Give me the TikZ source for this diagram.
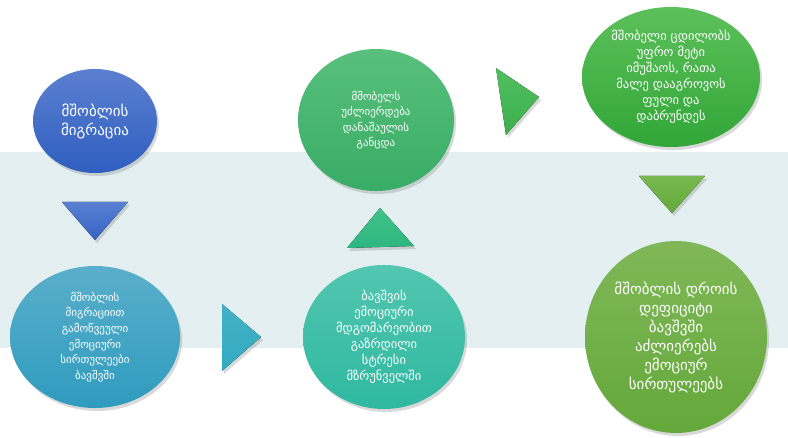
\documentclass[tikz,border=0pt]{standalone}
\usepackage{fontspec}
\newfontfamily\geo[Script=Georgian]{DejaVu Sans}
\usetikzlibrary{shapes.geometric,shadows}
\definecolor{bandbg}{HTML}{E3EFF0}
\tikzset{
  shd/.style={drop shadow={opacity=.3,shadow xshift=2pt,shadow yshift=-3pt}},
  bubble/.style={ellipse, inner sep=0pt, text=white, align=center, shd},
  txt/.style 2 args={font=\geo\fontsize{#1}{#2}\selectfont},
  tri/.style={shd}
}

\begin{document}
\begin{tikzpicture}[x=1pt,y=-1pt]
\useasboundingbox (0,0) rectangle (788,438);
\fill[bandbg] (0,152) rectangle (788,348);
%first column
\node[bubble, txt={15}{19}, top color={rgb,255:red,92;green,128;blue,208}, bottom color={rgb,255:red,46;green,94;blue,192},
  minimum width=124, minimum height=104] (migr) at (95,121) {მშობლის\\მიგრაცია};
\node[bubble, txt={11}{15.7}, top color={rgb,255:red,90;green,175;blue,203}, bottom color={rgb,255:red,47;green,155;blue,190},
  minimum width=170, minimum height=142] (child) at (95,337) {მშობლის\\მიგრაციით\\გამოწვეული\\ემოციური\\სირთულეები\\ბავშვში};
\fill[tri, top color={rgb,255:red,90;green,128;blue,210}, bottom color={rgb,255:red,52;green,100;blue,196}]
  (62,202) -- (128,202) -- (95,240) -- cycle;
%middle column
\node[bubble, txt={12.5}{16}, top color={rgb,255:red,82;green,198;blue,176}, bottom color={rgb,255:red,47;green,184;blue,160},
  minimum width=162, minimum height=144] (stress) at (384,337) {ბავშვის\\ემოციური\\მდგომარეობით\\გაზრდილი\\სტრესი\\მზრუნველში};
\node[bubble, txt={11}{15.5}, top color={rgb,255:red,88;green,192;blue,124}, bottom color={rgb,255:red,56;green,172;blue,102},
  minimum width=156, minimum height=142] (guilt) at (376,120) {მშობელს\\უძლიერდება\\დანაშაულის\\განცდა};
\fill[tri, top color={rgb,255:red,66;green,178;blue,200}, bottom color={rgb,255:red,52;green,170;blue,192}]
  (222,304) -- (261,337) -- (222,371) -- cycle;
\fill[tri, top color={rgb,255:red,64;green,194;blue,136}, bottom color={rgb,255:red,46;green,182;blue,128}]
  (380,208) -- (414,246) -- (347,248) -- cycle;
%right column
\node[bubble, txt={12.5}{16}, top color={rgb,255:red,92;green,192;blue,90}, bottom color={rgb,255:red,50;green,166;blue,56},
  minimum width=178, minimum height=140] (work) at (671,77) {მშობელი ცდილობს\\უფრო მეტი\\იმუშაოს, რათა\\მალე დააგროვოს\\ფული და\\დაბრუნდეს};
\node[bubble, txt={15}{19}, top color={rgb,255:red,128;green,184;blue,88}, bottom color={rgb,255:red,100;green,168;blue,58},
  minimum width=182, minimum height=192] (deficit) at (676,337) {მშობლის დროის\\დეფიციტი\\ბავშვში\\აძლიერებს\\ემოციურ\\სირთულეებს};
\fill[tri, top color={rgb,255:red,80;green,190;blue,96}, bottom color={rgb,255:red,60;green,176;blue,76}]
  (496,68) -- (539,97) -- (506,135) -- cycle;
\fill[tri, top color={rgb,255:red,120;green,184;blue,80}, bottom color={rgb,255:red,100;green,170;blue,58}]
  (639,176) -- (705,176) -- (672,213) -- cycle;
\end{tikzpicture}
\end{document}
